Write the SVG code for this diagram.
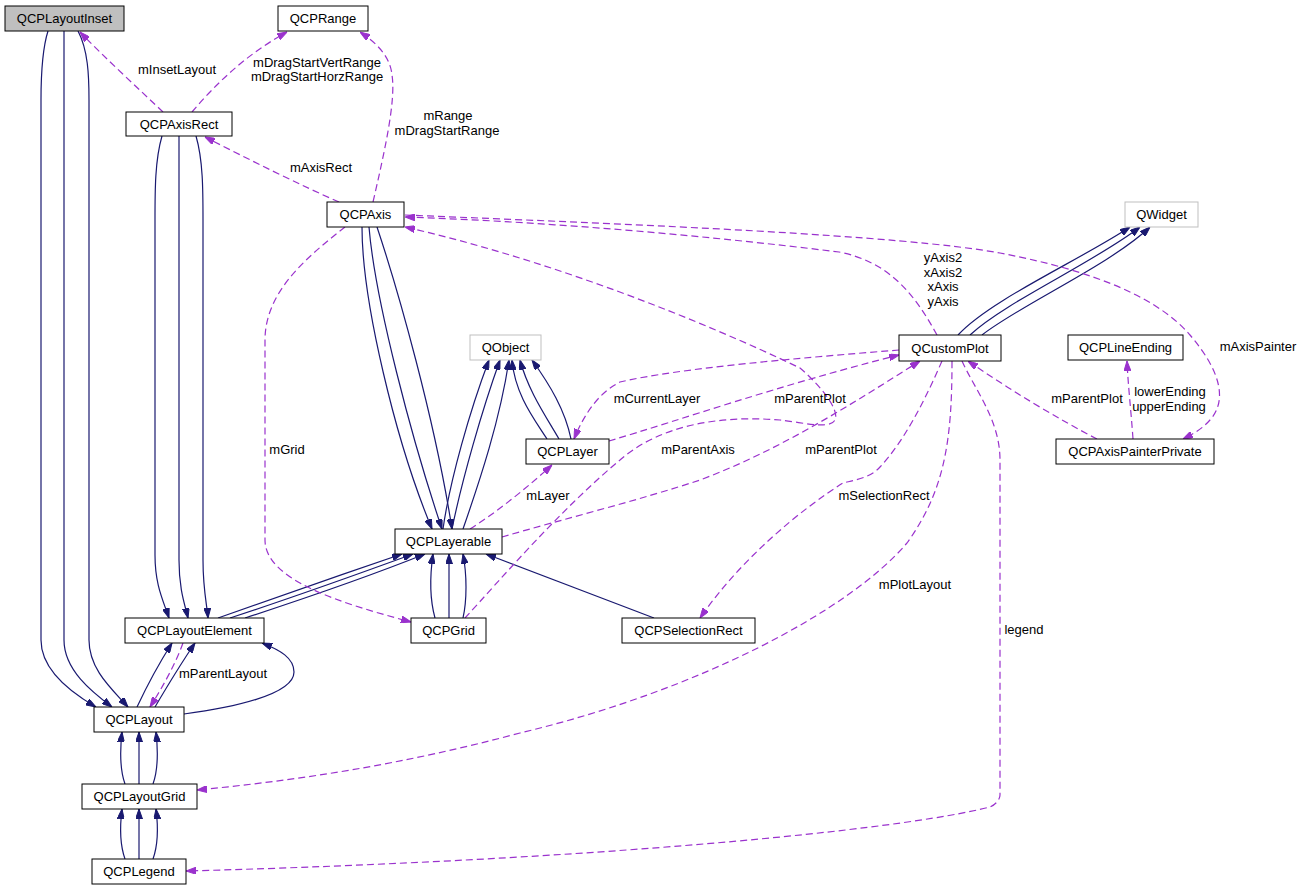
<svg xmlns="http://www.w3.org/2000/svg" width="1303" height="891" viewBox="0 0 1303 891">
<style>
text{font-family:"Liberation Sans",Arial,sans-serif;font-size:13px;fill:#000}
.node text{text-anchor:middle}
.box{fill:#fff;stroke:#000;stroke-width:1}
.ext{fill:#fff;stroke:#bfbfbf;stroke-width:1}
.root{fill:#bfbfbf;stroke:#000;stroke-width:1}
.n{fill:none;stroke:#191970;stroke-width:1.2;marker-end:url(#an)}
.p{fill:none;stroke:#9a32cd;stroke-width:1.2;stroke-dasharray:7,4;marker-end:url(#ap)}
.pn{fill:none;stroke:#9a32cd;stroke-width:1.2;stroke-dasharray:7,4}
.lbl{text-anchor:middle}
</style>
<defs>
<marker id="an" viewBox="0 0 10 7" refX="10" refY="3.5" markerWidth="10" markerHeight="7" orient="auto" markerUnits="userSpaceOnUse"><path d="M0,0 L10,3.5 L0,7 z" fill="#191970" stroke="#191970"/></marker>
<marker id="ap" viewBox="0 0 10 7" refX="10" refY="3.5" markerWidth="10" markerHeight="7" orient="auto" markerUnits="userSpaceOnUse"><path d="M0,0 L10,3.5 L0,7 z" fill="#9a32cd" stroke="#9a32cd"/></marker>
</defs>
<rect width="1303" height="891" fill="#fff"/>
<g id="connectors">
<path class="n" d="M48,31 C42,50 41,75 41,100 L41,640 C41,670 70,692 96,707"/>
<path class="n" d="M64,31 L64,640 C64,670 92,692 112,707"/>
<path class="n" d="M78,31 C88,50 89,75 89,100 L89,640 C89,670 113,690 128,707"/>
<path class="n" d="M162,136 C155,160 155,190 155,220 L155,555 C155,585 163,600 169,618"/>
<path class="n" d="M179,136 L179,560 C179,590 185,605 188,618"/>
<path class="n" d="M196,136 C203,160 203,190 203,220 L203,560 C203,590 207,605 208,618"/>
<path class="n" d="M362,227 C362,300 395,440 432,529"/>
<path class="n" d="M369,227 C375,300 412,440 442,529"/>
<path class="n" d="M377,227 C398,290 435,420 452,529"/>
<path class="n" d="M443,529 C450,480 470,410 489,360"/>
<path class="n" d="M452,529 C462,480 482,410 500,360"/>
<path class="n" d="M463,529 C480,480 500,420 509,360"/>
<path class="n" d="M547,439 C535,420 515,395 512,360"/>
<path class="n" d="M559,439 C545,415 528,390 520,360"/>
<path class="n" d="M571,439 C565,410 550,385 532,360"/>
<path class="n" d="M958,335 C990,300 1080,260 1130,227"/>
<path class="n" d="M970,335 C1005,302 1095,262 1140,227"/>
<path class="n" d="M982,335 C1020,305 1110,265 1150,227"/>
<path class="n" d="M218,618 C270,600 340,575 402,554"/>
<path class="n" d="M230,618 C285,600 350,577 413,554"/>
<path class="n" d="M245,618 C300,600 365,578 425,554"/>
<path class="n" d="M435,618 C430,600 430,575 433,554"/>
<path class="n" d="M449,618 L449,554"/>
<path class="n" d="M463,618 C467,600 467,575 463,554"/>
<path class="n" d="M654,618 L486,554"/>
<path class="n" d="M137,707 C145,690 158,665 172,643"/>
<path class="n" d="M155,707 C165,690 180,665 195,643"/>
<path class="n" d="M184,714 C230,708 294,695 294,672 C294,658 280,650 262,643"/>
<path class="n" d="M125,784 C120,770 120,750 122,732"/>
<path class="n" d="M139,784 L139,732"/>
<path class="n" d="M153,784 C158,770 158,750 156,732"/>
<path class="n" d="M125,859 C120,845 120,825 122,809"/>
<path class="n" d="M139,859 L139,809"/>
<path class="n" d="M153,859 C158,845 158,825 156,809"/>
<path class="p" d="M163,112 C140,90 105,58 80,32"/>
<path class="p" d="M192,112 C215,85 245,55 287,32"/>
<path class="p" d="M373,202 C385,150 396,100 392,75 C390,55 375,42 360,32"/>
<path class="p" d="M339,202 C300,185 250,160 205,137"/>
<path class="p" d="M937,335 C915,295 890,262 839,252 C700,235 550,222 405,217"/>
<path class="p" d="M405,215 C650,225 900,235 1000,253 C1100,272 1160,300 1190,335 C1220,370 1228,400 1210,420 C1203,428 1195,433 1183,439"/>
<path class="p" d="M465,618 C500,580 560,510 620,460 C660,425 720,415 780,420 C800,422 830,430 835,420 C840,410 820,385 800,368 C700,320 550,260 405,227"/>
<path class="p" d="M899,350 C800,358 680,368 620,382 C600,392 585,412 574,439"/>
<path class="p" d="M609,441 C680,420 780,385 899,355"/>
<path class="p" d="M502,537 C560,520 640,500 700,480 C780,450 850,405 920,361"/>
<path class="p" d="M470,529 C500,510 530,485 552,465"/>
<path class="p" d="M345,227 C310,255 265,290 265,340 L265,540 C265,580 340,603 411,622"/>
<path class="p" d="M942,361 C925,400 905,440 880,467 C870,478 855,480 843,483 C800,510 740,560 700,618"/>
<path class="p" d="M952,361 C952,440 945,490 907,543 C850,610 700,690 520,733 C400,765 300,780 197,790"/>
<path class="p" d="M962,361 C975,390 1000,420 1000,460 L1000,795 C1000,800 995,805 990,807 C900,830 600,860 186,871"/>
<path class="p" d="M1097,439 C1060,420 1010,390 968,361"/>
<path class="p" d="M1133,439 C1131,410 1128,385 1127,361"/>
<path class="p" d="M183,643 C175,665 162,688 150,707"/>
<text class="lbl" x="177" y="74">mInsetLayout</text>
<text class="lbl" x="317" y="67">mDragStartVertRange</text>
<text class="lbl" x="317" y="81">mDragStartHorzRange</text>
<text class="lbl" x="448" y="120">mRange</text>
<text class="lbl" x="447" y="135">mDragStartRange</text>
<text class="lbl" x="321" y="172">mAxisRect</text>
<text class="lbl" x="943" y="262">yAxis2</text>
<text class="lbl" x="943" y="277">xAxis2</text>
<text class="lbl" x="943" y="291">xAxis</text>
<text class="lbl" x="943" y="306">yAxis</text>
<text class="lbl" x="1258" y="351">mAxisPainter</text>
<text class="lbl" x="657" y="403">mCurrentLayer</text>
<text class="lbl" x="810" y="403">mParentPlot</text>
<text class="lbl" x="698" y="454">mParentAxis</text>
<text class="lbl" x="841" y="454">mParentPlot</text>
<text class="lbl" x="884" y="500">mSelectionRect</text>
<text class="lbl" x="548" y="500">mLayer</text>
<text class="lbl" x="287" y="454">mGrid</text>
<text class="lbl" x="915" y="589">mPlotLayout</text>
<text class="lbl" x="1024" y="634">legend</text>
<text class="lbl" x="1087" y="403">mParentPlot</text>
<text class="lbl" x="1170" y="396">lowerEnding</text>
<text class="lbl" x="1169" y="411">upperEnding</text>
<text class="lbl" x="223" y="678">mParentLayout</text>
</g>
<g id="QCPLayoutInset" class="node"><rect class="root" x="5" y="6" width="119" height="25"/><text x="64.5" y="23">QCPLayoutInset</text></g>
<g id="QCPRange" class="node"><rect class="box" x="278" y="6" width="90" height="25"/><text x="323" y="23">QCPRange</text></g>
<g id="QCPAxisRect" class="node"><rect class="box" x="126" y="112" width="106" height="24"/><text x="179" y="128.5">QCPAxisRect</text></g>
<g id="QCPAxis" class="node"><rect class="box" x="327" y="202" width="77" height="25"/><text x="365.5" y="219">QCPAxis</text></g>
<g id="QWidget" class="node"><rect class="ext" x="1125" y="202" width="73" height="25"/><text x="1161.5" y="219">QWidget</text></g>
<g id="QObject" class="node"><rect class="ext" x="470" y="335" width="71" height="25"/><text x="505.5" y="352">QObject</text></g>
<g id="QCustomPlot" class="node"><rect class="box" x="899" y="335" width="102" height="26"/><text x="950" y="352.5">QCustomPlot</text></g>
<g id="QCPLineEnding" class="node"><rect class="box" x="1068" y="335" width="115" height="25"/><text x="1125.5" y="352">QCPLineEnding</text></g>
<g id="QCPLayer" class="node"><rect class="box" x="526" y="439" width="83" height="25"/><text x="567.5" y="456">QCPLayer</text></g>
<g id="QCPAxisPainterPrivate" class="node"><rect class="box" x="1056" y="439" width="158" height="25"/><text x="1135" y="456">QCPAxisPainterPrivate</text></g>
<g id="QCPLayerable" class="node"><rect class="box" x="395" y="529" width="107" height="25"/><text x="448.5" y="546">QCPLayerable</text></g>
<g id="QCPLayoutElement" class="node"><rect class="box" x="125" y="618" width="139" height="25"/><text x="194.5" y="635">QCPLayoutElement</text></g>
<g id="QCPGrid" class="node"><rect class="box" x="411" y="618" width="75" height="25"/><text x="448.5" y="635">QCPGrid</text></g>
<g id="QCPSelectionRect" class="node"><rect class="box" x="622" y="618" width="133" height="25"/><text x="688.5" y="635">QCPSelectionRect</text></g>
<g id="QCPLayout" class="node"><rect class="box" x="94" y="707" width="90" height="25"/><text x="139" y="724">QCPLayout</text></g>
<g id="QCPLayoutGrid" class="node"><rect class="box" x="82" y="784" width="115" height="25"/><text x="139.5" y="801">QCPLayoutGrid</text></g>
<g id="QCPLegend" class="node"><rect class="box" x="92" y="859" width="94" height="25"/><text x="139" y="876">QCPLegend</text></g>
</svg>
